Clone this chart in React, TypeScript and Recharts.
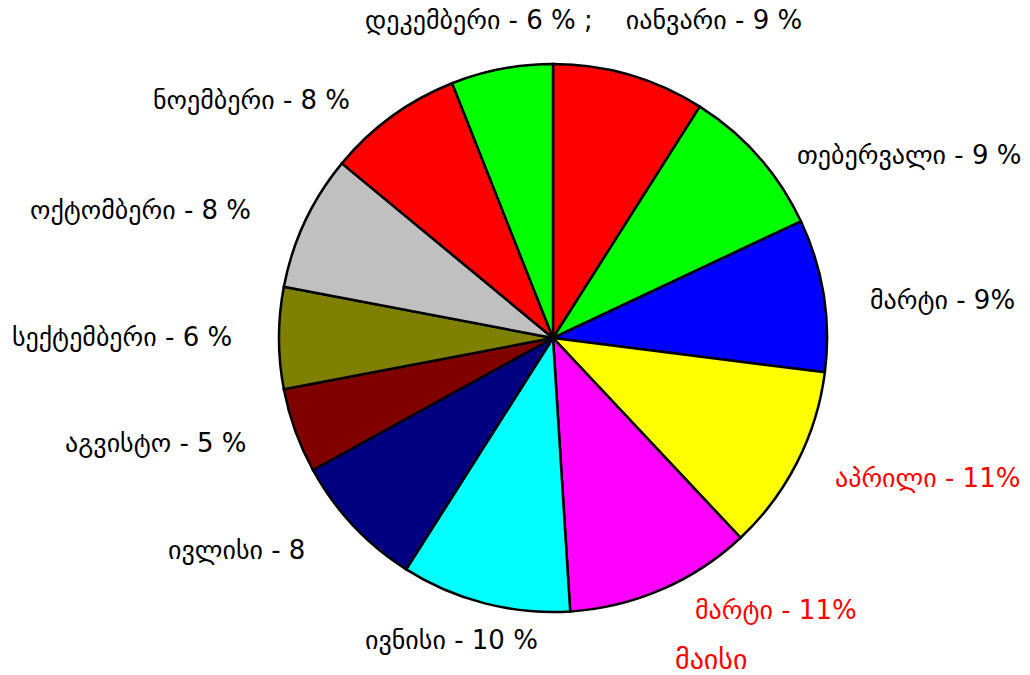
import React from "react";
import { PieChart, Pie, Cell } from "recharts";

const months = [
  "იანვარი", "თებერვალი", "მარტი", "აპრილი", "მაისი", "ივნისი",
  "ივლისი", "აგვისტო", "სექტემბერი", "ოქტომბერი", "ნოემბერი", "დეკემბერი",
];
const shares = [9, 9, 9, 11, 11, 10, 8, 5, 6, 8, 8, 6];
const sliceColors = [
  "#ff0000", "#00ff00", "#0000ff", "#ffff00", "#ff00ff", "#00ffff",
  "#000080", "#800000", "#808000", "#c0c0c0", "#ff0000", "#00ff00",
];

// label texts exactly as written on the original
const labelTexts = [
  "დეკემბერი - 6 % ;    იანვარი - 9 %",
  "თებერვალი - 9 %",
  "მარტი - 9%",
  "აპრილი - 11%",
  "მარტი - 11%",
  "მაისი",
  "ივნისი - 10 %",
  "ივლისი - 8",
  "აგვისტო - 5 %",
  "სექტემბერი - 6 %",
  "ოქტომბერი - 8 %",
  "ნოემბერი - 8 %",
];
const labelRed = [false, false, false, true, true, true, false, false, false, false, false, false];

// where each label sits (left x, vertical centre y, font size)
const labelPlaces: [number, number, number][] = [
  [365, 20, 26],
  [797, 155, 26],
  [870, 300, 26],
  [835, 478, 26],
  [695, 610, 26],
  [675, 660, 28],
  [365, 640, 26],
  [168, 550, 26],
  [65, 443, 26],
  [12, 337, 26],
  [30, 210, 26],
  [153, 100, 26],
];

const data = months.map((m, i) => ({ name: m, value: shares[i] }));

export default function App() {
  return (
    <div style={{ position: "absolute", left: 0, top: 0, width: 1030, height: 675, background: "#fff", fontFamily: "'DejaVu Sans', sans-serif" }}>
      <PieChart width={1030} height={675} margin={{ top: 0, right: 0, bottom: 0, left: 0 }}>
        <Pie
          data={data}
          dataKey="value"
          nameKey="name"
          cx={553}
          cy={338}
          outerRadius={274}
          startAngle={90}
          endAngle={-270}
          stroke="#000"
          strokeWidth={2.5}
          isAnimationActive={false}
          label={false}
          labelLine={false}
        >
          {data.map((d, i) => (
            <Cell key={d.name + i} fill={sliceColors[i]} />
          ))}
        </Pie>
      </PieChart>
      {labelTexts.map((t, i) => (
        <div
          key={i}
          style={{
            position: "absolute",
            left: labelPlaces[i][0],
            top: labelPlaces[i][1],
            transform: "translateY(-50%)",
            fontSize: labelPlaces[i][2],
            color: labelRed[i] ? "#ff0000" : "#000",
            whiteSpace: "pre",
            lineHeight: 1,
          }}
        >
          {t}
        </div>
      ))}
    </div>
  );
}
